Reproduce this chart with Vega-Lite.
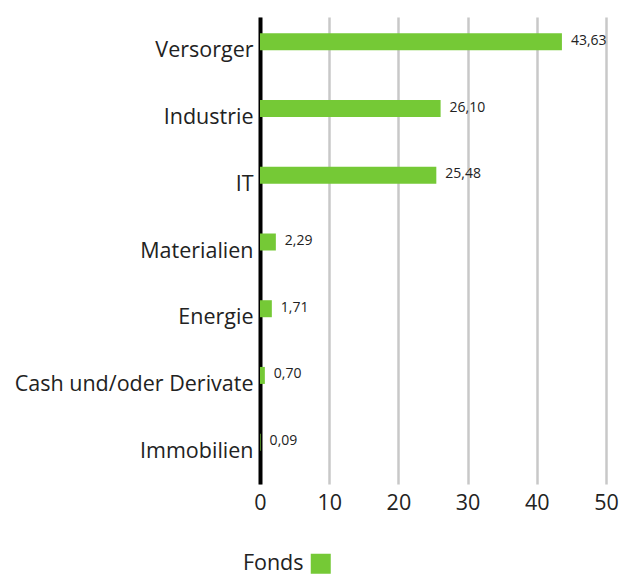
{
  "$schema": "https://vega.github.io/schema/vega-lite/v6.json",
  "width": 346,
  "height": 467,
  "autosize": {"type": "none"},
  "padding": {"left": 260, "top": 17, "right": 13, "bottom": 91},
  "background": "white",
  "data": {
    "values": [
      {"sektor": "Versorger", "wert": 43.63, "serie": "Fonds"},
      {"sektor": "Industrie", "wert": 26.10, "serie": "Fonds"},
      {"sektor": "IT", "wert": 25.48, "serie": "Fonds"},
      {"sektor": "Materialien", "wert": 2.29, "serie": "Fonds"},
      {"sektor": "Energie", "wert": 1.71, "serie": "Fonds"},
      {"sektor": "Cash und/oder Derivate", "wert": 0.70, "serie": "Fonds"},
      {"sektor": "Immobilien", "wert": 0.09, "serie": "Fonds"}
    ]
  },
  "encoding": {
    "y": {
      "field": "sektor",
      "type": "nominal",
      "sort": null,
      "scale": {"paddingInner": 0, "paddingOuter": 0},
      "axis": {
        "title": null,
        "ticks": false,
        "domain": true,
        "domainColor": "#000000",
        "domainWidth": 4,
        "labelFont": "Open Sans",
        "labelFontSize": 21.5,
        "labelColor": "#222222",
        "labelPadding": 7,
        "labelLimit": 400,
        "labelOffset": 1,
        "grid": false
      }
    },
    "x": {
      "field": "wert",
      "type": "quantitative",
      "scale": {"domain": [0, 50], "nice": false},
      "axis": {
        "title": null,
        "values": [0, 10, 20, 30, 40, 50],
        "domain": false,
        "ticks": false,
        "grid": true,
        "gridColor": "#c8c8c8",
        "gridWidth": 2.5,
        "labelFont": "Open Sans",
        "labelFontSize": 21.5,
        "labelColor": "#222222",
        "labelPadding": 8,
        "labelFlush": false
      }
    }
  },
  "layer": [
    {
      "mark": {"type": "bar", "height": 17, "yOffset": -8.5},
      "encoding": {
        "color": {
          "field": "serie",
          "type": "nominal",
          "scale": {"range": ["#75c936"]},
          "legend": {
            "title": null,
            "orient": "none",
            "legendX": 50,
            "legendY": 536,
            "padding": 0,
            "symbolType": "square",
            "symbolSize": 400,
            "symbolStrokeWidth": 0,
            "labelAlign": "right",
            "labelOffset": -28,
            "labelFont": "Open Sans",
            "labelFontSize": 21.5,
            "labelColor": "#222222"
          }
        }
      }
    },
    {
      "mark": {"type": "text", "align": "left", "baseline": "middle", "dx": 9, "yOffset": -9.5, "font": "Open Sans", "fontSize": 14, "color": "#222222"},
      "encoding": {
        "text": {"field": "wert", "type": "quantitative", "format": ".2f"}
      }
    }
  ],
  "config": {
    "view": {"stroke": null},
    "locale": {"number": {"decimal": ",", "thousands": ".", "grouping": [3], "currency": ["", " €"]}}
  }
}
